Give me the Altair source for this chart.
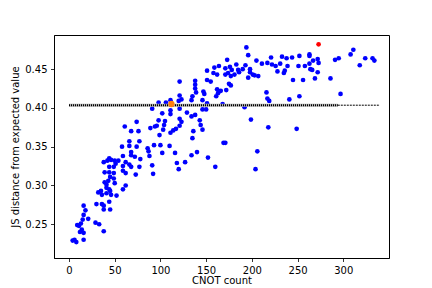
import altair as alt
import pandas as pd

# Blue scatter points: CNOT count vs JS distance
cnot_counts = [
    4, 6, 8, 16, 9, 11, 13, 12, 14, 16, 15, 21, 16, 18, 16, 29, 33, 38, 30, 36,
    38, 44, 45, 38, 35, 32, 36, 41, 46, 52, 59, 41, 44, 45, 39, 41, 50, 62, 43, 49,
    45, 39, 44, 49, 59, 62, 73, 77, 44, 49, 51, 54, 59, 62, 66, 68, 38,
    74, 61, 68, 76, 66, 77, 58, 66, 74, 44, 46, 42, 50, 59, 68, 68, 72,
    121, 151, 158, 162, 164, 159, 151, 155, 138, 138, 138, 147, 148, 146, 139, 135,
    134, 121, 120, 123, 151, 98, 106, 111, 91, 102, 111, 111, 121, 129, 134, 146,
    150, 138, 121,
    194, 196, 173, 171, 176, 178, 183, 174, 177, 181, 171, 185, 186, 190, 193, 198,
    198, 201, 203, 207, 196, 205, 211, 217, 221, 222, 226, 228, 231, 233, 238, 244,
    252, 236, 235, 239, 251, 162, 163, 166, 172, 161, 168, 175, 177, 192, 199, 216,
    217, 219, 218, 245, 241, 252, 249,
    263, 263, 267, 272, 273, 263, 258, 264, 266, 272, 256, 269, 286, 291, 295, 308,
    311, 324, 318, 332, 334, 297,
    89, 94, 96, 98, 103, 104, 105, 99, 111, 114, 117, 121, 123, 136, 143, 144,
    146, 135, 78, 86, 87, 93, 100, 110, 88, 102, 116, 118, 127, 120, 91, 92,
    134, 140, 152, 160, 169, 171, 206, 204,
]
js_distances = [
    0.229, 0.230, 0.227, 0.230, 0.249, 0.248, 0.251, 0.240, 0.243, 0.239, 0.256, 0.257, 0.262, 0.268, 0.274, 0.252, 0.250, 0.241, 0.276, 0.276,
    0.274, 0.279, 0.269, 0.269, 0.293, 0.291, 0.288, 0.290, 0.288, 0.287, 0.295, 0.297, 0.295, 0.293, 0.304, 0.301, 0.303, 0.300, 0.306, 0.309,
    0.311, 0.317, 0.317, 0.316, 0.319, 0.316, 0.314, 0.324, 0.324, 0.324, 0.328, 0.332, 0.325, 0.330, 0.327, 0.324, 0.330,
    0.382, 0.376, 0.370, 0.370, 0.357, 0.357, 0.350, 0.351, 0.350, 0.335, 0.333, 0.332, 0.332, 0.338, 0.343, 0.339, 0.337,
    0.434, 0.448, 0.445, 0.443, 0.454, 0.452, 0.436, 0.434, 0.435, 0.430, 0.425, 0.421, 0.418, 0.410, 0.420, 0.415,
    0.410, 0.416, 0.409, 0.411, 0.406, 0.407, 0.407, 0.410, 0.399, 0.393, 0.397, 0.392, 0.399, 0.394, 0.389, 0.398,
    0.398, 0.391, 0.386,
    0.478, 0.468, 0.462, 0.451, 0.453, 0.449, 0.456, 0.445, 0.441, 0.443, 0.443, 0.449, 0.446, 0.450, 0.455, 0.450,
    0.446, 0.443, 0.442, 0.441, 0.439, 0.461, 0.457, 0.458, 0.465, 0.456, 0.454, 0.447, 0.457, 0.466, 0.464, 0.465,
    0.467, 0.448, 0.445, 0.454, 0.454, 0.424, 0.419, 0.422, 0.423, 0.415, 0.405, 0.431, 0.429, 0.401, 0.385, 0.420,
    0.412, 0.409, 0.375, 0.436, 0.411, 0.415, 0.373,
    0.469, 0.467, 0.461, 0.463, 0.458, 0.457, 0.454, 0.450, 0.449, 0.446, 0.436, 0.438, 0.438, 0.462, 0.464, 0.469,
    0.475, 0.464, 0.455, 0.464, 0.461, 0.418,
    0.374, 0.376, 0.377, 0.384, 0.372, 0.378, 0.383, 0.365, 0.368, 0.371, 0.373, 0.377, 0.382, 0.370, 0.384, 0.378,
    0.372, 0.361, 0.334, 0.348, 0.344, 0.352, 0.352, 0.351, 0.338, 0.342, 0.342, 0.329, 0.330, 0.321, 0.326, 0.315,
    0.339, 0.343, 0.336, 0.324, 0.355, 0.355, 0.344, 0.321,
]

# Highlighted points
red_x = [273]
red_y = [0.482]
orange_x = [112]
orange_y = [0.405]

# Horizontal reference line (dense part and sparse tail)
ref_level = 0.4035
ref_dense_x = [0, 294]
ref_tail_x = [294, 340]

x_ticks = [0, 50, 100, 150, 200, 250, 300]
y_ticks = [0.25, 0.30, 0.35, 0.40, 0.45]

df = pd.DataFrame({"cnot": cnot_counts, "js": js_distances})
df_red = pd.DataFrame({"cnot": red_x, "js": red_y})
df_orange = pd.DataFrame({"cnot": orange_x, "js": orange_y})
df_dense = pd.DataFrame({"cnot": [ref_dense_x[0]], "cnot2": [ref_dense_x[1]], "js": [ref_level]})
df_tail = pd.DataFrame({"cnot": [ref_tail_x[0]], "cnot2": [ref_tail_x[1]], "js": [ref_level]})

x_scale = alt.Scale(domain=[-16.4, 350], nice=False, zero=False)
y_scale = alt.Scale(domain=[0.2065, 0.494], nice=False, zero=False)

x_axis = alt.Axis(values=x_ticks, title="CNOT count", format="d", grid=False)
y_axis = alt.Axis(values=y_ticks, title="JS distance from expected value", format=".2f", grid=False)

X = alt.X("cnot:Q", scale=x_scale, axis=x_axis)
Y = alt.Y("js:Q", scale=y_scale, axis=y_axis)

base_points = alt.Chart(df).mark_circle(size=22, color="#0000ff", opacity=1).encode(x=X, y=Y)

rule_gray = alt.Chart(df_dense).mark_rule(color="#b0b0b0", strokeWidth=3).encode(
    x=X, x2="cnot2:Q", y=Y
)
rule_dots = alt.Chart(df_dense).mark_rule(color="black", strokeWidth=2, strokeDash=[1, 1]).encode(
    x=X, x2="cnot2:Q", y=Y
)
rule_tail = alt.Chart(df_tail).mark_rule(color="black", strokeWidth=1, strokeDash=[2, 1]).encode(
    x=X, x2="cnot2:Q", y=Y
)

red_pt = alt.Chart(df_red).mark_circle(size=22, color="#ff0000", opacity=1).encode(x=X, y=Y)
orange_pt = alt.Chart(df_orange).mark_circle(size=40, color="#ff7f0e", opacity=1).encode(x=X, y=Y)

chart = alt.layer(base_points, rule_gray, rule_dots, rule_tail, red_pt, orange_pt).properties(
    width=335,
    height=223,
    autosize=alt.AutoSizeParams(type="none"),
    padding={"left": 46, "top": 27, "right": 30, "bottom": 30},
).configure_view(
    stroke="black", strokeWidth=1
).configure_axis(
    labelFont="DejaVu Sans", labelFontSize=10, labelColor="black",
    titleFont="DejaVu Sans", titleFontSize=10, titleColor="black", titleFontWeight="normal",
    domainColor="black", domainWidth=0.8, tickColor="black", tickWidth=0.8, tickSize=3.5,
    labelPadding=3.5,
).configure_axisX(titlePadding=0).configure_axisY(titlePadding=4)

chart.save("out.html", embed_options={"renderer": "svg", "actions": False})
